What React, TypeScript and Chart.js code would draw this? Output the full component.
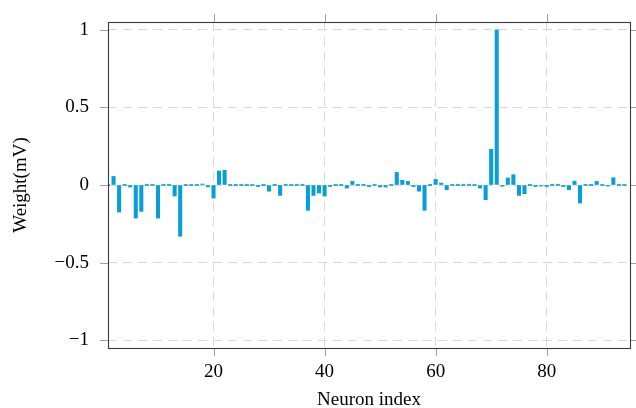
import React, { useEffect, useRef } from "react";
import { Chart, registerables } from "chart.js";
Chart.register(...registerables);

const neuronIndex = [
  1, 2, 3, 4, 5, 6, 7, 8, 9, 10, 11, 12, 13, 14, 15, 16, 17, 18, 19, 20,
  21, 22, 23, 24, 25, 26, 27, 28, 29, 30, 31, 32, 33, 34, 35, 36, 37, 38, 39, 40,
  41, 42, 43, 44, 45, 46, 47, 48, 49, 50, 51, 52, 53, 54, 55, 56, 57, 58, 59, 60,
  61, 62, 63, 64, 65, 66, 67, 68, 69, 70, 71, 72, 73, 74, 75, 76, 77, 78, 79, 80,
  81, 82, 83, 84, 85, 86, 87, 88, 89, 90, 91, 92, 93, 94,
];

const weights = [
  0, 0.055, -0.174, 0, -0.013, -0.213, -0.17, 0, 0, -0.213,
  0, 0, -0.071, -0.33, 0, 0, 0, 0.005, -0.012, -0.084,
  0.09, 0.094, 0, 0, 0, 0, 0, -0.01, 0, -0.04,
  0, -0.067, 0, 0, 0, 0, -0.163, -0.067, -0.052, -0.071,
  -0.01, 0, 0, -0.02, 0.023, 0, 0, -0.01, 0, -0.013,
  -0.013, 0, 0.081, 0.03, 0.023, -0.01, -0.04, -0.163, 0, 0.036,
  0.012, -0.03, 0, 0, 0, 0, 0, -0.02, -0.095, 0.23,
  1.0, -0.008, 0.045, 0.066, -0.067, -0.056, 0, -0.01, -0.007, -0.01,
  0, 0, -0.01, -0.03, 0.025, -0.116, 0, 0, 0.023, 0,
  -0.007, 0.047, 0, 0,
];

const xTickValues = [20, 40, 60, 80];
const yTickValues = [-1, -0.5, 0, 0.5, 1];

const FONT = "'Liberation Serif', 'Times New Roman', serif";

const fmt = (v: number) => (v < 0 ? "\u2212" + Math.abs(v) : String(v));

export default function App() {
  const ref = useRef<HTMLCanvasElement>(null);

  useEffect(() => {
    document.body.style.margin = "0";
    const framePlugin = {
      id: "framePlugin",
      afterDraw(chart: any) {
        const { ctx, chartArea } = chart;
        const { left, right, top, bottom } = chartArea;
        const xs = chart.scales.x;
        const ys = chart.scales.y;
        const tl = 8;
        ctx.save();
        ctx.strokeStyle = "#a0a0a0";
        ctx.lineWidth = 1;
        ctx.beginPath();
        xTickValues.forEach((v) => {
          const px = Math.round(xs.getPixelForValue(v)) + 0.5;
          ctx.moveTo(px, bottom);
          ctx.lineTo(px, bottom + tl);
          ctx.moveTo(px, top);
          ctx.lineTo(px, top - tl);
        });
        yTickValues.forEach((v) => {
          const py = Math.round(ys.getPixelForValue(v)) + 0.5;
          ctx.moveTo(left, py);
          ctx.lineTo(left - tl, py);
          ctx.moveTo(right, py);
          ctx.lineTo(right + tl, py);
        });
        ctx.stroke();
        ctx.strokeStyle = "#3a3a3a";
        ctx.lineWidth = 1.1;
        ctx.strokeRect(
          Math.round(left) + 0.5,
          Math.round(top) + 0.5,
          Math.round(right) - Math.round(left),
          Math.round(bottom) - Math.round(top)
        );
        ctx.restore();
      },
    };

    const chart = new Chart(ref.current as HTMLCanvasElement, {
      type: "bar",
      data: {
        datasets: [
          {
            data: neuronIndex.map((x, i) => ({ x, y: weights[i] })),
            backgroundColor: "#06a0d6",
            borderWidth: 0,
            barThickness: 3.4,
            minBarLength: 1,
          },
        ],
      },
      options: {
        responsive: false,
        animation: false,
        devicePixelRatio: 1,
        layout: { padding: { top: 22, right: 6, left: 0, bottom: 0 } },
        plugins: { legend: { display: false }, tooltip: { enabled: false } },
        scales: {
          x: {
            type: "linear",
            min: 1,
            max: 95,
            offset: false,
            afterBuildTicks: (s: any) => {
              s.ticks = xTickValues.map((value) => ({ value }));
            },
            afterFit: (s: any) => {
              s.height = 60;
              s.paddingLeft = 0;
              s.paddingRight = 0;
            },
            ticks: {
              includeBounds: false,
              color: "#000",
              font: { family: FONT, size: 19 },
              padding: 13,
              maxRotation: 0,
              callback: (v: any) => fmt(Number(v)),
            },
            grid: { color: "#d8d8d8", drawTicks: false, lineWidth: 1, offset: false },
            border: { display: false, dash: [9, 6] },
            title: {
              display: true,
              text: "Neuron index",
              color: "#000",
              font: { family: FONT, size: 19, lineHeight: 1 },
              padding: { top: 0, bottom: -2 },
            },
          },
          y: {
            type: "linear",
            min: -1.05,
            max: 1.05,
            afterBuildTicks: (s: any) => {
              s.ticks = yTickValues.map((value) => ({ value }));
            },
            afterFit: (s: any) => {
              s.width = 108;
              s.paddingTop = 0;
              s.paddingBottom = 0;
            },
            ticks: {
              includeBounds: false,
              color: "#000",
              font: { family: FONT, size: 19 },
              padding: 19,
              callback: (v: any) => fmt(Number(v)),
            },
            grid: { color: "#d8d8d8", drawTicks: false, lineWidth: 1 },
            border: { display: false, dash: [9, 6] },
            title: {
              display: true,
              text: "Weight(mV)",
              color: "#000",
              font: { family: FONT, size: 19, lineHeight: 1 },
              padding: { top: 12, bottom: 0 },
            },
          },
        },
      },
      plugins: [framePlugin],
    });
    return () => chart.destroy();
  }, []);

  return (
    <div style={{ width: 636, height: 408 }}>
      <canvas ref={ref} width={636} height={408} />
    </div>
  );
}
